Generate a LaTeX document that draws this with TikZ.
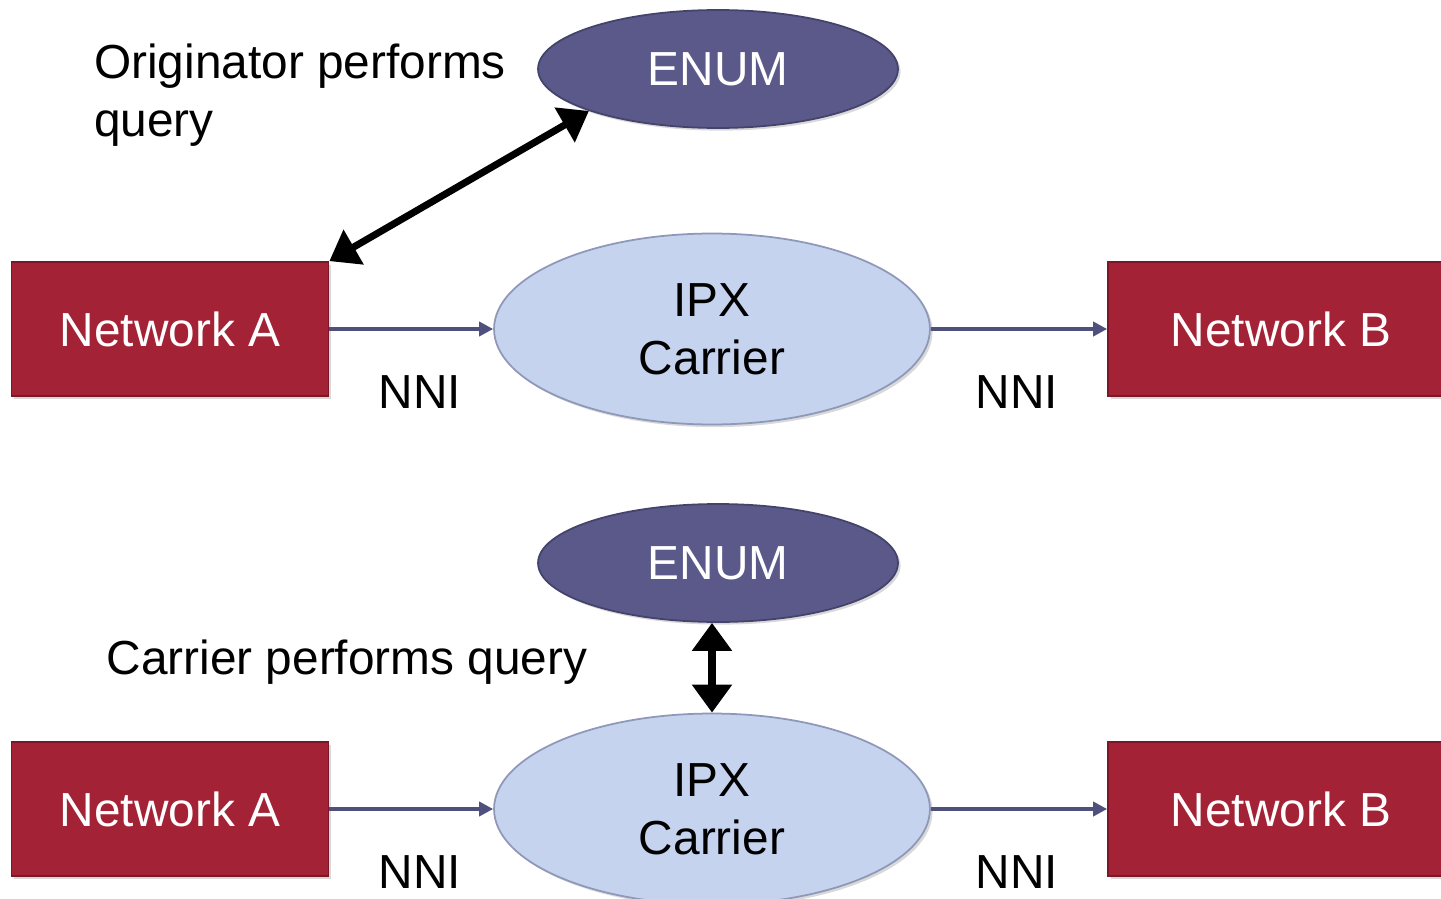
\documentclass[tikz,border=0pt]{standalone}
\usepackage{fontspec}
\setmainfont{Liberation Sans}
\usetikzlibrary{shapes.geometric,arrows.meta,shadows}

\definecolor{netred}{HTML}{A32236}
\definecolor{netredline}{HTML}{7C1727}
\definecolor{enumblue}{HTML}{5A5989}
\definecolor{enumline}{HTML}{44436C}
\definecolor{ipxblue}{HTML}{C5D3EE}
\definecolor{ipxline}{HTML}{8F98B8}
\definecolor{nniarrow}{HTML}{50507C}

\begin{document}
\begin{tikzpicture}[x=0.02cm,y=-0.02cm,
  bigfont/.style={font=\fontsize{27.2}{33}\selectfont},
  netbox/.style={rectangle,fill=netred,draw=netredline,line width=1pt,text=white,
    minimum width=6.34cm,minimum height=2.68cm,inner sep=0pt,bigfont,
    drop shadow={shadow xshift=1.5pt,shadow yshift=-1.5pt,opacity=0.3}},
  enumnode/.style={ellipse,fill=enumblue,draw=enumline,line width=1pt,text=white,
    minimum width=7.2cm,minimum height=2.36cm,inner sep=0pt,bigfont,
    drop shadow={shadow xshift=1.5pt,shadow yshift=-1.5pt,opacity=0.3}},
  ipxnode/.style={ellipse,fill=ipxblue,draw=ipxline,line width=1pt,
    minimum width=8.72cm,minimum height=3.82cm,inner sep=0pt,align=center,bigfont,
    drop shadow={shadow xshift=1.5pt,shadow yshift=-1.5pt,opacity=0.3}},
  nni/.style={draw=nniarrow,line width=2pt,-{Triangle[length=8pt,width=8pt]}},
  query/.style={line width=4pt,{Triangle[length=16pt,width=22pt]}-{Triangle[length=16pt,width=22pt]}},
]
\useasboundingbox (0,0) rectangle (1441,899);

% the two rows
\foreach \r/\y in {1/329, 2/809} {
  \node[netbox] (netA\r) at (170,\y) {Network A};
  \node[netbox,minimum width=6.92cm] (netB\r) at (1281,\y) {Network B};
  \node[ipxnode] (ipx\r) at (712,\y) {IPX\\Carrier};
  \draw[nni] (netA\r.east) -- (ipx\r.west);
  \draw[nni] (ipx\r.east) -- (netB\r.west);
  \node[bigfont] (nniA\r) at (420,\y+63) {NNI};
  \node[bigfont] (nniB\r) at (1017,\y+63) {NNI};
}

\node[enumnode] (enum1) at (718,69) {ENUM};
\node[enumnode] (enum2) at (718,563) {ENUM};

\draw[query] (netA1.north east) -- (enum1.198);
\draw[query] (ipx2.north |- enum2.south) -- (ipx2.north);

\node[bigfont,anchor=west,align=left] (orig) at (88,95) {Originator performs\\query};
\node[bigfont] (carr) at (347,662) {Carrier performs query};
\end{tikzpicture}
\end{document}
